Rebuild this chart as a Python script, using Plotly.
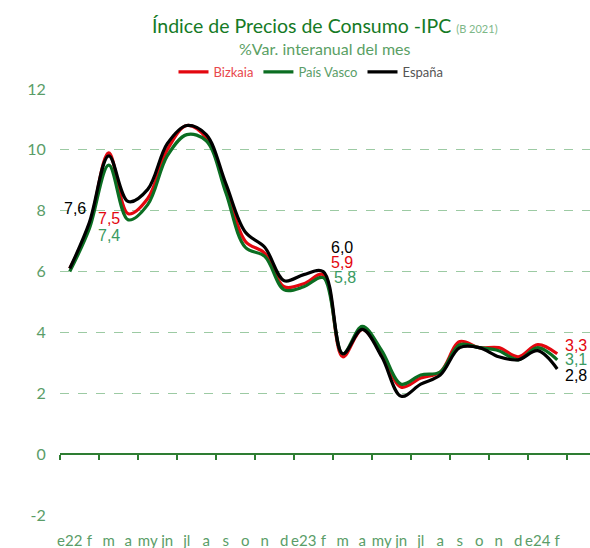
import plotly.graph_objects as go

# ---- data ----
months = [f"{y}-{m:02d}" for y, m in
          [(2022, m) for m in range(1, 13)] + [(2023, m) for m in range(1, 13)] + [(2024, 1), (2024, 2)]]
x_text = ["e22", "f", "m", "a", "my", "jn", "jl", "a", "s", "o", "n", "d",
          "e23", "f", "m", "a", "my", "jn", "jl", "a", "s", "o", "n", "d",
          "e24", "f"]
bizkaia = [6.1, 7.5, 9.9, 7.9, 8.4, 10.0, 10.8, 10.4, 8.8, 7.0, 6.6, 5.5,
           5.6, 5.9, 3.2, 4.1, 3.3, 2.2, 2.5, 2.7, 3.7, 3.5, 3.5, 3.2,
           3.6, 3.3]
pais_vasco = [6.0, 7.4, 9.5, 7.7, 8.2, 9.8, 10.5, 10.3, 8.6, 6.8, 6.5, 5.4,
              5.5, 5.8, 3.3, 4.2, 3.4, 2.3, 2.6, 2.7, 3.6, 3.5, 3.4, 3.1,
              3.5, 3.1]
espana = [6.1, 7.6, 9.8, 8.3, 8.7, 10.2, 10.8, 10.5, 8.9, 7.3, 6.8, 5.7,
          5.9, 6.0, 3.3, 4.1, 3.2, 1.9, 2.3, 2.6, 3.5, 3.5, 3.2, 3.1,
          3.4, 2.8]
y_ticks = [-2, 0, 2, 4, 6, 8, 10, 12]

RED = "#e3070f"
GREEN = "#0b6e22"
BLACK = "#000000"
LABEL_GREEN = "#3a9a62"
AXIS_GREEN = "#5a9d68"
GRID_GREEN = "#9ccaa3"

series = [
    ("Bizkaia", bizkaia, RED, "#e8474d"),
    ("País Vasco", pais_vasco, GREEN, "#5a9d68"),
    ("España", espana, BLACK, "#555555"),
]

fig = go.Figure()
for name, vals, col, legcol in series:
    fig.add_trace(go.Scatter(
        x=months, y=vals, mode="lines",
        name=f"<span style='color:{legcol}'>{name}</span>",
        line=dict(color=col, width=3.2, shape="spline", smoothing=1.0),
        hoverinfo="skip",
    ))

# carrier for the zero axis line (ticks between every two categories)
fig.add_trace(go.Scatter(x=[None], y=[None], xaxis="x2", showlegend=False, hoverinfo="skip"))

def fmt(v):
    return f"{v:.1f}".replace(".", ",")

label_specs = [
    (1, espana, BLACK, -14, 14),
    (1, bizkaia, RED, 20, 7),
    (1, pais_vasco, LABEL_GREEN, 20, -7),
    (13, espana, BLACK, 19, 24),
    (13, bizkaia, RED, 19, 12),
    (13, pais_vasco, LABEL_GREEN, 22, 0),
    (25, bizkaia, RED, 19, 8),
    (25, pais_vasco, LABEL_GREEN, 19, 0),
    (25, espana, BLACK, 19, -7),
]
for idx, vals, col, xs, ys in label_specs:
    fig.add_annotation(x=months[idx], y=vals[idx], text=fmt(vals[idx]),
                       showarrow=False, xshift=xs, yshift=ys,
                       font=dict(family="Liberation Sans, Arial", size=16, color=col))

# titles (paper coords relative to the plot area)
fig.add_annotation(xref="paper", yref="paper", x=0.5, y=(515 - 25) / 426,
                   xanchor="center", yanchor="middle", showarrow=False,
                   text="Índice de Precios de Consumo -IPC <span style='font-size:11px;color:#7db888'>(B 2021)</span>",
                   font=dict(family="Lato", size=19.5, color="#157a25"))
fig.add_annotation(xref="paper", yref="paper", x=0.5, y=(515 - 48) / 426,
                   xanchor="center", yanchor="middle", showarrow=False,
                   text="%Var. interanual del mes",
                   font=dict(family="Lato", size=16, color="#5aa064"))

n = len(months)
x_range = [-0.5, 26.68]
fig.update_layout(
    width=590, height=548,
    margin=dict(l=60, r=0, t=89, b=33, autoexpand=False),
    paper_bgcolor="white", plot_bgcolor="white",
    showlegend=True,
    hovermode=False,
    legend=dict(orientation="h", x=(311 - 60) / 530, y=(515 - 72) / 426,
                xanchor="center", yanchor="middle",
                font=dict(family="Lato", size=13, color="#555555"),
                itemwidth=30, tracegroupgap=0, bgcolor="rgba(0,0,0,0)"),
    xaxis=dict(type="category", range=x_range,
               tickmode="array", tickvals=months, ticktext=x_text,
               showgrid=False, zeroline=False, showline=False, automargin=False,
               ticks="outside", ticklen=12, tickcolor="rgba(0,0,0,0)",
               tickfont=dict(family="Lato", size=15, color=AXIS_GREEN),
               tickangle=0),
    xaxis2=dict(overlaying="x", anchor="free", position=2 / 14,
                range=x_range,
                tickmode="array", tickvals=[i - 0.5 for i in range(0, n + 1, 2)],
                ticks="outside", ticklen=5, tickwidth=1.5, tickcolor="#2e7d32",
                showline=True, linecolor="#2e7d32", linewidth=2, automargin=False,
                showgrid=False, zeroline=False, showticklabels=False),
    yaxis=dict(range=[-2, 12], tickmode="array", tickvals=y_ticks,
               ticktext=[str(v) for v in y_ticks],
               showgrid=True, gridcolor=GRID_GREEN, griddash="dash", gridwidth=1,
               zeroline=False, showline=False, automargin=False,
               ticks="outside", ticklen=10, tickcolor="rgba(0,0,0,0)",
               tickfont=dict(family="Lato", size=16, color=AXIS_GREEN)),
)

fig.write_html("out.html", default_width="590px", default_height="548px",
               config={"displayModeBar": False, "staticPlot": True},
               post_script="document.body.style.margin='0';document.body.style.overflow='hidden';")
